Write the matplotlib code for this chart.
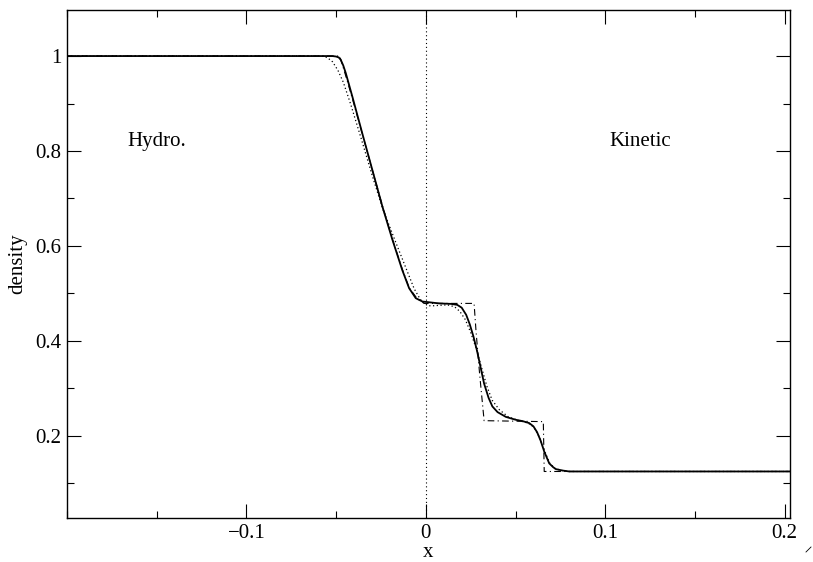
import matplotlib
matplotlib.use("Agg")
import matplotlib.pyplot as plt
from matplotlib.ticker import MultipleLocator
from matplotlib.lines import Line2D

plt.rcParams['font.family'] = ['Liberation Serif', 'DejaVu Serif']
plt.rcParams['font.size'] = 15

# hydro solution (solid)
hydro_x = [-0.2, -0.052, -0.050, -0.0485, -0.0474, -0.046, -0.0446, -0.0409, -0.0354,
           -0.0298, -0.0242, -0.0186, -0.0131, -0.0093, -0.0056, -0.0019, 0.0074, 0.0140,
           0.0175, 0.0200, 0.0225, 0.0245, 0.0265, 0.0285, 0.0305, 0.0325, 0.0350, 0.0371,
           0.0400, 0.0446, 0.0500, 0.0540, 0.0576, 0.0600, 0.0620, 0.0640, 0.0660, 0.0688,
           0.0710, 0.0725, 0.0762, 0.0800, 0.203]
hydro_y = [1.0, 1.0, 0.999, 0.997, 0.992, 0.980, 0.964, 0.914, 0.837,
           0.760, 0.683, 0.613, 0.549, 0.511, 0.490, 0.483, 0.479, 0.478,
           0.476, 0.470, 0.455, 0.435, 0.410, 0.380, 0.345, 0.310, 0.280, 0.262,
           0.250, 0.240, 0.234, 0.231, 0.227, 0.220, 0.208, 0.190, 0.167, 0.142,
           0.134, 0.130, 0.127, 0.125, 0.125]

# kinetic solution (dotted)
kin_x = [-0.2, -0.058, -0.055, -0.052, -0.049, -0.046, -0.042, -0.036, -0.030, -0.024,
         -0.017, -0.0105, -0.0065, -0.003, 0.001, 0.004, 0.008, 0.012, 0.016, 0.019,
         0.022, 0.025, 0.028, 0.031, 0.034, 0.037, 0.041, 0.046, 0.052, 0.057, 0.060,
         0.063, 0.066, 0.069, 0.072, 0.076, 0.080, 0.203]
kin_y = [1.0, 1.0, 0.997, 0.988, 0.970, 0.945, 0.900, 0.826, 0.750, 0.678,
         0.610, 0.548, 0.510, 0.487, 0.474, 0.474, 0.475, 0.476, 0.472, 0.462,
         0.445, 0.418, 0.385, 0.345, 0.305, 0.275, 0.255, 0.240, 0.232, 0.227, 0.219,
         0.200, 0.170, 0.143, 0.131, 0.127, 0.125, 0.125]

# exact solution (dash-dot)
exact_x = [-0.2, -0.0480, -0.0446, -0.0409, -0.0354, -0.0298, -0.0242, -0.0186, -0.0131,
           -0.0093, -0.0050, -0.0010, 0.0269, 0.0280, 0.0300, 0.0325, 0.0655, 0.0660, 0.203]
exact_y = [1.0, 1.0, 0.958, 0.910, 0.836, 0.760, 0.685, 0.614, 0.551,
           0.512, 0.490, 0.479, 0.479, 0.42, 0.33, 0.232, 0.230, 0.125, 0.125]

fig = plt.figure(figsize=(8.13, 5.62), dpi=100)
ax = fig.add_axes([67/813, 44/562, 723/813, 508/562])

ax.axvline(0, color='black', lw=0.8, linestyle=(0, (1, 2.5)))
ax.plot(exact_x, exact_y, color='black', lw=0.8, linestyle=(0, (6, 3, 1, 3)))
ax.plot(kin_x, kin_y, color='black', lw=0.9, linestyle=(0, (1, 2)))
ax.plot(hydro_x, hydro_y, color='black', lw=1.3)

ax.set_xlim(-0.2, 0.203)
ax.set_ylim(0.027, 1.097)
ax.xaxis.set_minor_locator(MultipleLocator(0.05))
ax.yaxis.set_minor_locator(MultipleLocator(0.1))
ax.set_xticks([-0.1, 0, 0.1, 0.2])
ax.set_xticklabels(['\u22120.1', '0', '0.1', '0.2'])
ax.set_yticks([0.2, 0.4, 0.6, 0.8, 1.0])
ax.set_yticklabels(['0.2', '0.4', '0.6', '0.8', '1'])
ax.tick_params(which='both', direction='in', top=True, right=True, width=0.8, pad=4)
ax.tick_params(which='major', length=10)
ax.tick_params(which='minor', length=5)
for s in ax.spines.values():
    s.set_linewidth(1.0)

ax.set_xlabel('x', labelpad=0)
ax.set_ylabel('density', labelpad=6)

ax.text(-0.1666, 0.8105, 'Hydro.', ha='left', va='baseline')
ax.text(0.1023, 0.8105, 'Kinetic', ha='left', va='baseline')

fig.add_artist(Line2D([806/813, 811/813], [10/562, 15/562], color='black', lw=0.6))

fig.savefig('out.png', dpi=100)
